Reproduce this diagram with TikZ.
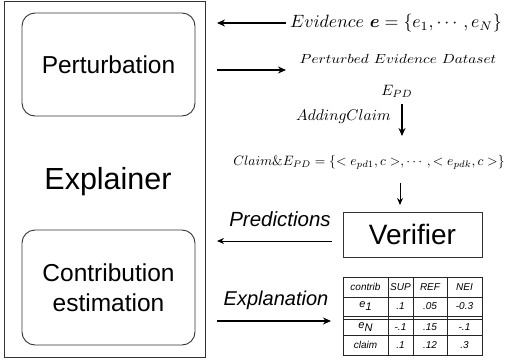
\documentclass[tikz,border=0pt]{standalone}
\usepackage{amsmath,bm}
\usepackage{graphicx}
\usepackage{fontspec}
\setsansfont{Liberation Sans}
\usetikzlibrary{arrows.meta}

\tikzset{
  frame/.style={draw=black!80, line width=0.9pt},
  subbox/.style={draw=black!80, line width=0.9pt, rounded corners=13pt},
  flow/.style={line width=1.2pt, -{Stealth[length=8pt,width=7pt]}},
  thinflow/.style={line width=0.9pt, -{Stealth[length=7pt,width=6pt]}},
  cell/.style={font=\fontsize{10}{12}\selectfont\sffamily\itshape, inner sep=0pt},
  grid/.style={draw=black!85, line width=0.7pt}
}

\begin{document}
\begin{tikzpicture}[x=1pt, y=-1pt]
\useasboundingbox (0,0) rectangle (520,362);

% Explainer container and its two stages
\node[frame, minimum width=201pt, minimum height=356pt, inner sep=0pt] (explainer) at (104.5,179) {};
\node[font=\fontsize{30.5}{36}\selectfont\sffamily] (explabel) at (108,182) {Explainer};
\node[subbox, minimum width=173pt, minimum height=103pt, font=\fontsize{24.5}{29}\selectfont\sffamily] (perturb) at (108.5,64.5) {Perturbation};
\node[subbox, minimum width=173pt, minimum height=115pt, align=center,
      font=\fontsize{24.5}{30}\selectfont\sffamily] (contrib) at (108.5,287.5) {Contribution\\estimation};

% Verifier
\node[frame, minimum width=139pt, minimum height=45pt, font=\fontsize{28}{33}\selectfont\sffamily] (verifier) at (412.5,234.5) {Verifier};

% Evidence input
\node[anchor=west, inner sep=0pt] (evidence) at (290,23)
  {\scalebox{1.78}{$Evidence\ \bm{e}=\{e_1,\cdots,e_N\}$}};
\coordinate (evtip) at (217,23);
\draw[flow] (evidence.west) ++(-4,0) coordinate (evstart) (evstart) -- (evtip);

% Perturbed evidence dataset
\coordinate (ptstart) at (217,70);
\coordinate (pttip) at (286,70);
\draw[flow] (ptstart) -- (pttip);
\node[inner sep=0pt] (ptlabel) at (398,59)
  {\scalebox{1.52}[1.32]{$Perturbed\ Evidence\ Dataset$}};

% E_PD and adding the claim
\node[inner sep=1pt] (epd) at (397,91) {\scalebox{1.5}{$E_{PD}$}};
\coordinate (addstart) at (402,104);
\coordinate (addtip) at (402,136);
\draw[flow] (addstart) -- (addtip);
\node[anchor=east, inner sep=0pt] (addlabel) at (391,117) {\scalebox{1.55}{$AddingClaim$}};

\node[inner sep=0pt] (claimset) at (369,162)
  {\scalebox{1.36}{$Claim\&E_{PD}=\{<e_{pd1},c>,\cdots,<e_{pdk},c>\}$}};

\coordinate (vstart) at (400,183);
\coordinate (vtip) at (400,205);
\draw[thinflow] (vstart) -- (vtip);

% Predictions back to the explainer
\coordinate (prstart) at (332,241);
\coordinate (prtip) at (217,241);
\draw[thinflow] (prstart) -- (prtip);
\node[font=\fontsize{20.5}{24}\selectfont\sffamily\itshape, inner sep=0pt] (prlabel) at (280,219) {Predictions};

% Explanation output
\coordinate (exstart) at (217,321);
\coordinate (extip) at (331,321);
\draw[flow] (exstart) -- (extip);
\node[font=\fontsize{20}{24}\selectfont\sffamily\itshape, inner sep=0pt] (exlabel) at (276,300) {Explanation};

% Contribution table
\draw[grid] (343,277) rectangle (482,355);
\foreach \xx in {388,413,447} \draw[grid] (\xx,277) -- (\xx,355);
\foreach \yy in {297,316,319,335} \draw[grid] (343,\yy) -- (482,\yy);

\node[cell] (h0) at (365.5,287) {contrib};
\node[cell] (h1) at (400.5,287) {SUP};
\node[cell] (h2) at (430,287) {REF};
\node[cell] (h3) at (464.5,287) {NEI};

\node[cell, font=\fontsize{11}{12}\selectfont\sffamily\itshape] (r1c0) at (365.5,306.5) {e\raisebox{-3pt}{1}};
\node[cell] (r1c1) at (400.5,306.5) {.1};
\node[cell] (r1c2) at (430,306.5) {.05};
\node[cell] (r1c3) at (464.5,306.5) {-0.3};

\node[cell, font=\fontsize{11}{12}\selectfont\sffamily\itshape] (r2c0) at (365.5,327) {e\raisebox{-3pt}{N}};
\node[cell] (r2c1) at (400.5,327) {-.1};
\node[cell] (r2c2) at (430,327) {.15};
\node[cell] (r2c3) at (464.5,327) {-.1};

\node[cell] (r3c0) at (365.5,345) {claim};
\node[cell] (r3c1) at (400.5,345) {.1};
\node[cell] (r3c2) at (430,345) {.12};
\node[cell] (r3c3) at (464.5,345) {.3};
\end{tikzpicture}
\end{document}
